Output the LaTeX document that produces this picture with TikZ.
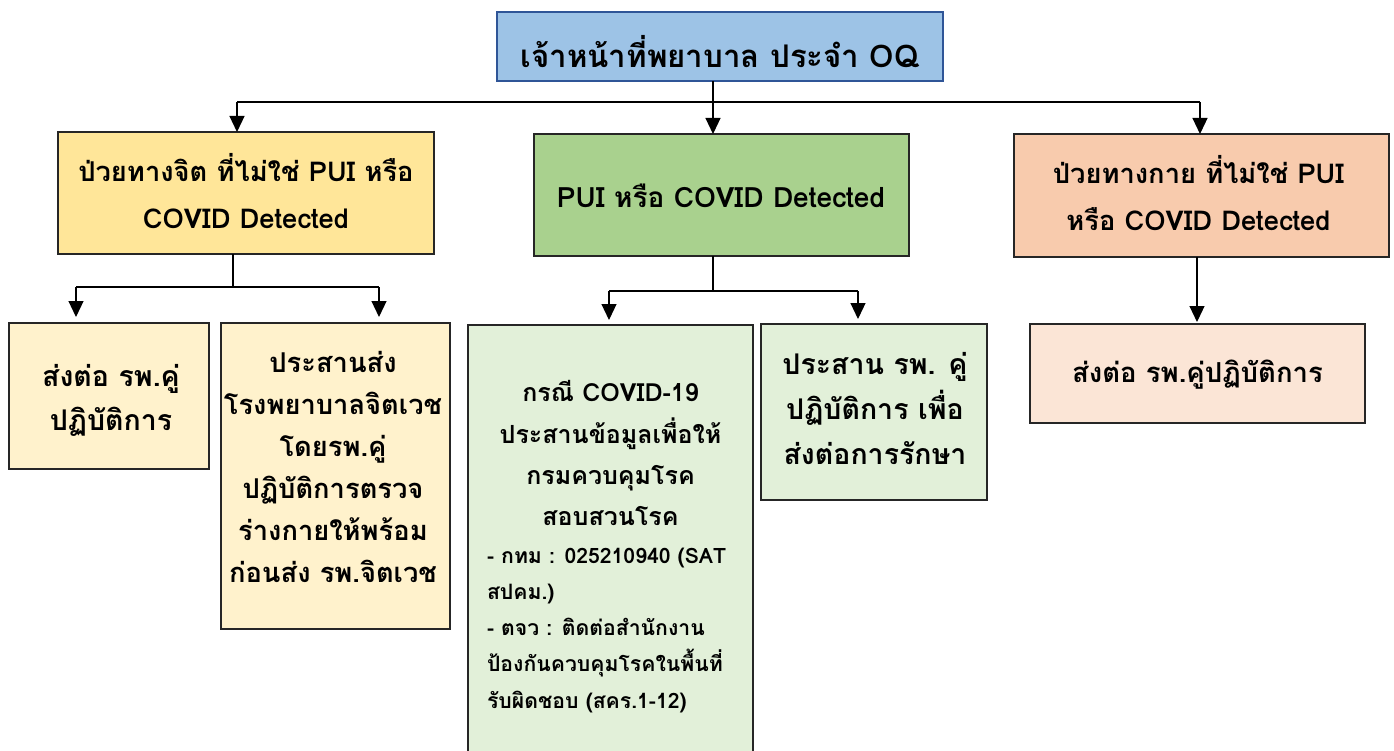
\documentclass[tikz,border=0pt]{standalone}
\usepackage{fontspec}
\setmainfont[Script=Thai]{Loma}
\usetikzlibrary{arrows.meta}
\definecolor{cTop}{HTML}{9DC3E6}
\definecolor{cTopLine}{HTML}{2F5597}
\definecolor{cYel}{HTML}{FFE699}
\definecolor{cYelL}{HTML}{FFF2CC}
\definecolor{cGrn}{HTML}{A9D18E}
\definecolor{cGrnL}{HTML}{E2F0D9}
\definecolor{cOrg}{HTML}{F8CBAD}
\definecolor{cOrgL}{HTML}{FBE5D6}
\definecolor{cLine}{HTML}{262626}
\newcommand\lst{\rule[-0.3em]{0pt}{1.0em}}
\tikzset{
  box/.style={rectangle, draw=cLine, line width=1.2pt, inner sep=0pt, outer sep=0pt},
  txt/.style={inner sep=0pt, outer sep=0pt, align=center, text=black},
  conn/.style={draw=black, line width=1.2pt},
  arr/.style={conn, -{Triangle[width=15pt,length=16pt]}},
}
\begin{document}
\begin{tikzpicture}[x=1pt,y=-1pt]
\useasboundingbox (0,0) rectangle (1394,751);
% boxes
\node[box, fill=cTop, draw=cTopLine, minimum width=446pt, minimum height=69pt] (top) at (720,46.5) {};
\node[box, fill=cYel, minimum width=376pt, minimum height=122pt] (lmid) at (246,193) {};
\node[box, fill=cGrn, minimum width=375pt, minimum height=122pt] (cmid) at (721.5,195) {};
\node[box, fill=cOrg, minimum width=375pt, minimum height=123pt] (rmid) at (1201.5,195.5) {};
\node[box, fill=cYelL, minimum width=200pt, minimum height=146pt] (lb1) at (109,396) {};
\node[box, fill=cYelL, minimum width=229pt, minimum height=306pt] (lb2) at (335.5,476) {};
\node[box, fill=cGrnL, minimum width=285pt, minimum height=435pt] (cb1) at (610.5,542.5) {};
\node[box, fill=cGrnL, minimum width=226pt, minimum height=176pt] (cb2) at (874,412) {};
\node[box, fill=cOrgL, minimum width=335pt, minimum height=99pt] (rb) at (1197.5,373.5) {};
% texts
\node[txt, font=\fontsize{31.2}{40}\selectfont\bfseries] (ttop) at (720,56) {\lst เจ้าหน้าที่พยาบาล ประจำ OQ\lst};
\node[txt, font=\fontsize{27.3}{47}\selectfont\bfseries] (tlmid) at (246,195) {\lst ป่วยทางจิต ที่ไม่ใช่ PUI หรือ\lst\\\lst COVID Detected\lst};
\node[txt, font=\fontsize{28}{47}\selectfont\bfseries] (tcmid) at (721,199.5) {\lst PUI หรือ COVID Detected\lst};
\node[txt, font=\fontsize{27.3}{47}\selectfont\bfseries] (trmid) at (1198.5,197) {\lst ป่วยทางกาย ที่ไม่ใช่ PUI\lst\\\lst หรือ COVID Detected\lst};
\node[txt, font=\fontsize{28.5}{44}\selectfont\bfseries] (tlb1) at (111,402) {\lst ส่งต่อ รพ.คู่\lst\\\lst ปฏิบัติการ\lst};
\node[txt, font=\fontsize{27.3}{42}\selectfont\bfseries] (tlb2) at (333,471) {\lst ประสานส่ง\lst\\\lst โรงพยาบาลจิตเวช\lst\\\lst โดยรพ.คู่\lst\\\lst ปฏิบัติการตรวจ\lst\\\lst ร่างกายให้พร้อม\lst\\\lst ก่อนส่ง รพ.จิตเวช\lst};
\node[txt, font=\fontsize{25}{41.3}\selectfont\bfseries] (tcb1a) at (610.5,457) {\lst กรณี COVID-19\lst\\\lst ประสานข้อมูลเพื่อให้\lst\\\lst กรมควบคุมโรค\lst\\\lst สอบสวนโรค\lst};
\node[txt, align=left, anchor=west, font=\fontsize{21.2}{36.25}\selectfont\bfseries] (tcb1b) at (487,631) {\lst - กทม : 025210940 (SAT\lst\\\lst สปคม.)\lst\\\lst - ตจว : ติดต่อสำนักงาน\lst\\\lst ป้องกันควบคุมโรคในพื้นที่\lst\\\lst รับผิดชอบ (สคร.1-12)\lst};
\node[txt, font=\fontsize{28.5}{45}\selectfont\bfseries] (tcb2) at (875,413) {\lst ประสาน รพ. คู่\lst\\\lst ปฏิบัติการ เพื่อ\lst\\\lst ส่งต่อการรักษา\lst};
\node[txt, font=\fontsize{27.5}{44}\selectfont\bfseries] (trb) at (1197.5,375.5) {\lst ส่งต่อ รพ.คู่ปฏิบัติการ\lst};
% connectors level 1
\coordinate (jt) at (713,102);
\coordinate (jl) at (237,102);
\coordinate (jr) at (1200,102);
\draw[conn] (top.south -| jt) -- (jt);
\draw[conn] (jl) -- (jr);
\draw[arr] (jl) -- (jl |- lmid.north);
\draw[arr] (jt) -- (jt |- cmid.north);
\draw[arr] (jr) -- (jr |- rmid.north);
% left branch
\coordinate (kl) at (233,287);
\coordinate (kll) at (76,287);
\coordinate (klr) at (379,287);
\draw[conn] (lmid.south -| kl) -- (kl);
\draw[conn] (kll) -- (klr);
\draw[arr, shorten >=6pt] (kll) -- (kll |- lb1.north);
\draw[arr, shorten >=6pt] (klr) -- (klr |- lb2.north);
% center branch
\coordinate (kc) at (713,291);
\coordinate (kcl) at (609,291);
\coordinate (kcr) at (858,291);
\draw[conn] (cmid.south -| kc) -- (kc);
\draw[conn] (kcl) -- (kcr);
\draw[arr, shorten >=5pt] (kcl) -- (kcl |- cb1.north);
\draw[arr, shorten >=5pt] (kcr) -- (kcr |- cb2.north);
% right branch
\coordinate (kr) at (1197,259);
\draw[arr, shorten >=2pt] (rmid.south -| kr) -- (rb.north -| kr);
\end{tikzpicture}
\end{document}
